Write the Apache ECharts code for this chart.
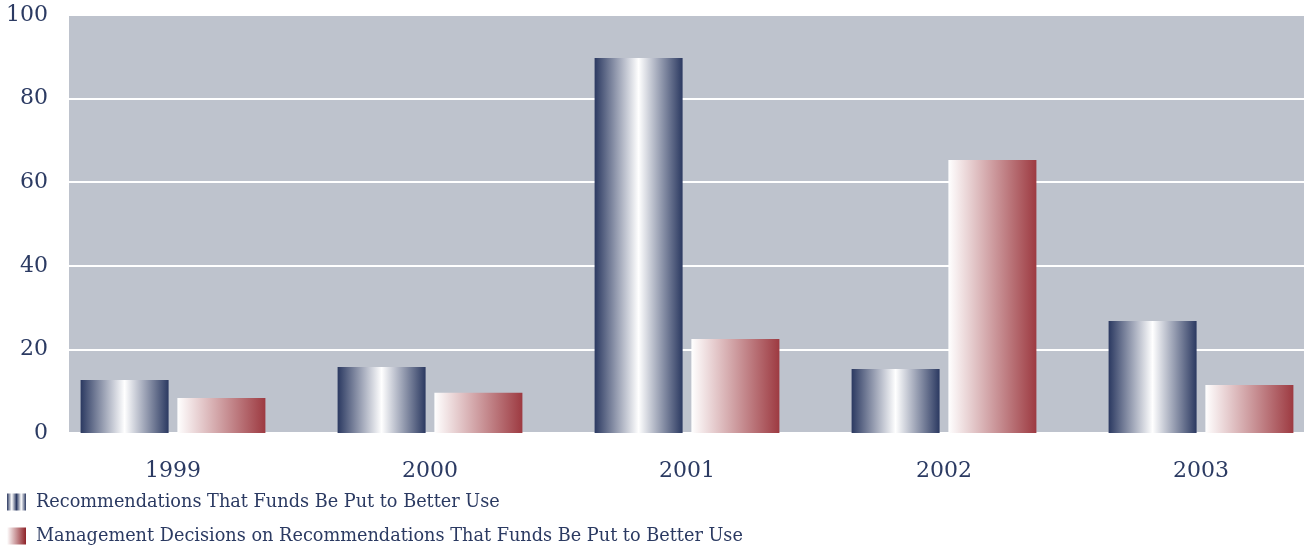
<!DOCTYPE html>
<html>
<head>
<meta charset="utf-8">
<script src="https://cdn.jsdelivr.net/npm/echarts@6/dist/echarts.min.js"></script>
<style>
  html, body { margin: 0; padding: 0; background: #ffffff; }
  #chart { width: 1304px; height: 547px; }
</style>
</head>
<body>
<div id="chart"></div>
<script>
// Fiscal years shown on the category axis
const years = ['1999', '2000', '2001', '2002', '2003'];

// Dollar amounts (millions) per year
const recommendations = [12.7, 15.8, 89.7, 15.3, 26.8];
const managementDecisions = [8.4, 9.6, 22.5, 65.3, 11.5];

// Value axis range and ticks
const yMin = 0;
const yMax = 100;
const yStep = 20;

const seriesNames = [
  'Recommendations That Funds Be Put to Better Use',
  'Management Decisions on Recommendations That Funds Be Put to Better Use'
];

const navy = '#2b3961';
const textColor = '#2b3a62';
const serif = '"DejaVu Serif", "Liberation Serif", serif';

// Cylinder-like shading: dark edges, bright centre
const blueFill = new echarts.graphic.LinearGradient(0, 0, 1, 0, [
  { offset: 0, color: navy },
  { offset: 0.5, color: '#ffffff' },
  { offset: 1, color: navy }
]);
// Fade from white on the left to brick red on the right
const redFill = new echarts.graphic.LinearGradient(0, 0, 1, 0, [
  { offset: 0, color: '#ffffff' },
  { offset: 1, color: '#9d3a41' }
]);
// Legend swatches
const blueSwatch = new echarts.graphic.LinearGradient(0, 0, 1, 0, [
  { offset: 0, color: navy },
  { offset: 0.25, color: '#ffffff' },
  { offset: 0.5, color: navy },
  { offset: 0.75, color: '#ffffff' },
  { offset: 1, color: navy }
]);
const redSwatch = new echarts.graphic.LinearGradient(0, 0, 1, 0, [
  { offset: 0, color: '#ffffff' },
  { offset: 1, color: '#8e2228' }
]);

// One legend row per series, stacked under the axis
function legendRow(top, name, swatch) {
  return {
    left: 7,
    top: top,
    padding: 0,
    itemWidth: 19,
    itemHeight: 17,
    icon: 'rect',
    selectedMode: false,
    textStyle: { fontFamily: serif, fontSize: 17.7, color: textColor, padding: [0, 0, 0, 5] },
    data: [{ name: name, itemStyle: { color: swatch } }]
  };
}

const chart = echarts.init(document.getElementById('chart'), null, { renderer: 'canvas' });

chart.setOption({
  animation: false,
  backgroundColor: '#ffffff',
  grid: [
    // Shaded plotting panel with value gridlines
    { left: 69, width: 1235, top: 15, height: 418, show: true, backgroundColor: '#bec3cd', borderWidth: 0, outerBoundsMode: 'none' },
    // Bar layout band
    { left: 44.5, width: 1285, top: 15, height: 418, outerBoundsMode: 'none' }
  ],
  legend: [
    legendRow(493, seriesNames[0], blueSwatch),
    legendRow(527, seriesNames[1], redSwatch)
  ],
  xAxis: [
    { type: 'category', gridIndex: 0, data: years, show: false },
    {
      type: 'category',
      gridIndex: 1,
      data: years,
      axisLine: { show: false },
      axisTick: { show: false },
      axisLabel: { margin: 27, fontFamily: serif, fontSize: 22, color: textColor }
    }
  ],
  yAxis: [
    {
      type: 'value',
      gridIndex: 0,
      min: yMin,
      max: yMax,
      interval: yStep,
      axisLine: { show: false },
      axisTick: { show: false },
      axisLabel: { margin: 21, fontFamily: serif, fontSize: 22, color: textColor },
      splitLine: { show: true, lineStyle: { color: '#ffffff', width: 2 } }
    },
    {
      type: 'value',
      gridIndex: 1,
      min: yMin,
      max: yMax,
      interval: yStep,
      show: false,
      splitLine: { show: false }
    }
  ],
  series: [
    {
      name: seriesNames[0],
      type: 'bar',
      xAxisIndex: 1,
      yAxisIndex: 1,
      data: recommendations,
      barWidth: 88,
      barGap: '10%',
      itemStyle: { color: blueFill }
    },
    {
      name: seriesNames[1],
      type: 'bar',
      xAxisIndex: 1,
      yAxisIndex: 1,
      data: managementDecisions,
      barWidth: 88,
      barGap: '10%',
      itemStyle: { color: redFill }
    }
  ]
});
</script>
</body>
</html>
